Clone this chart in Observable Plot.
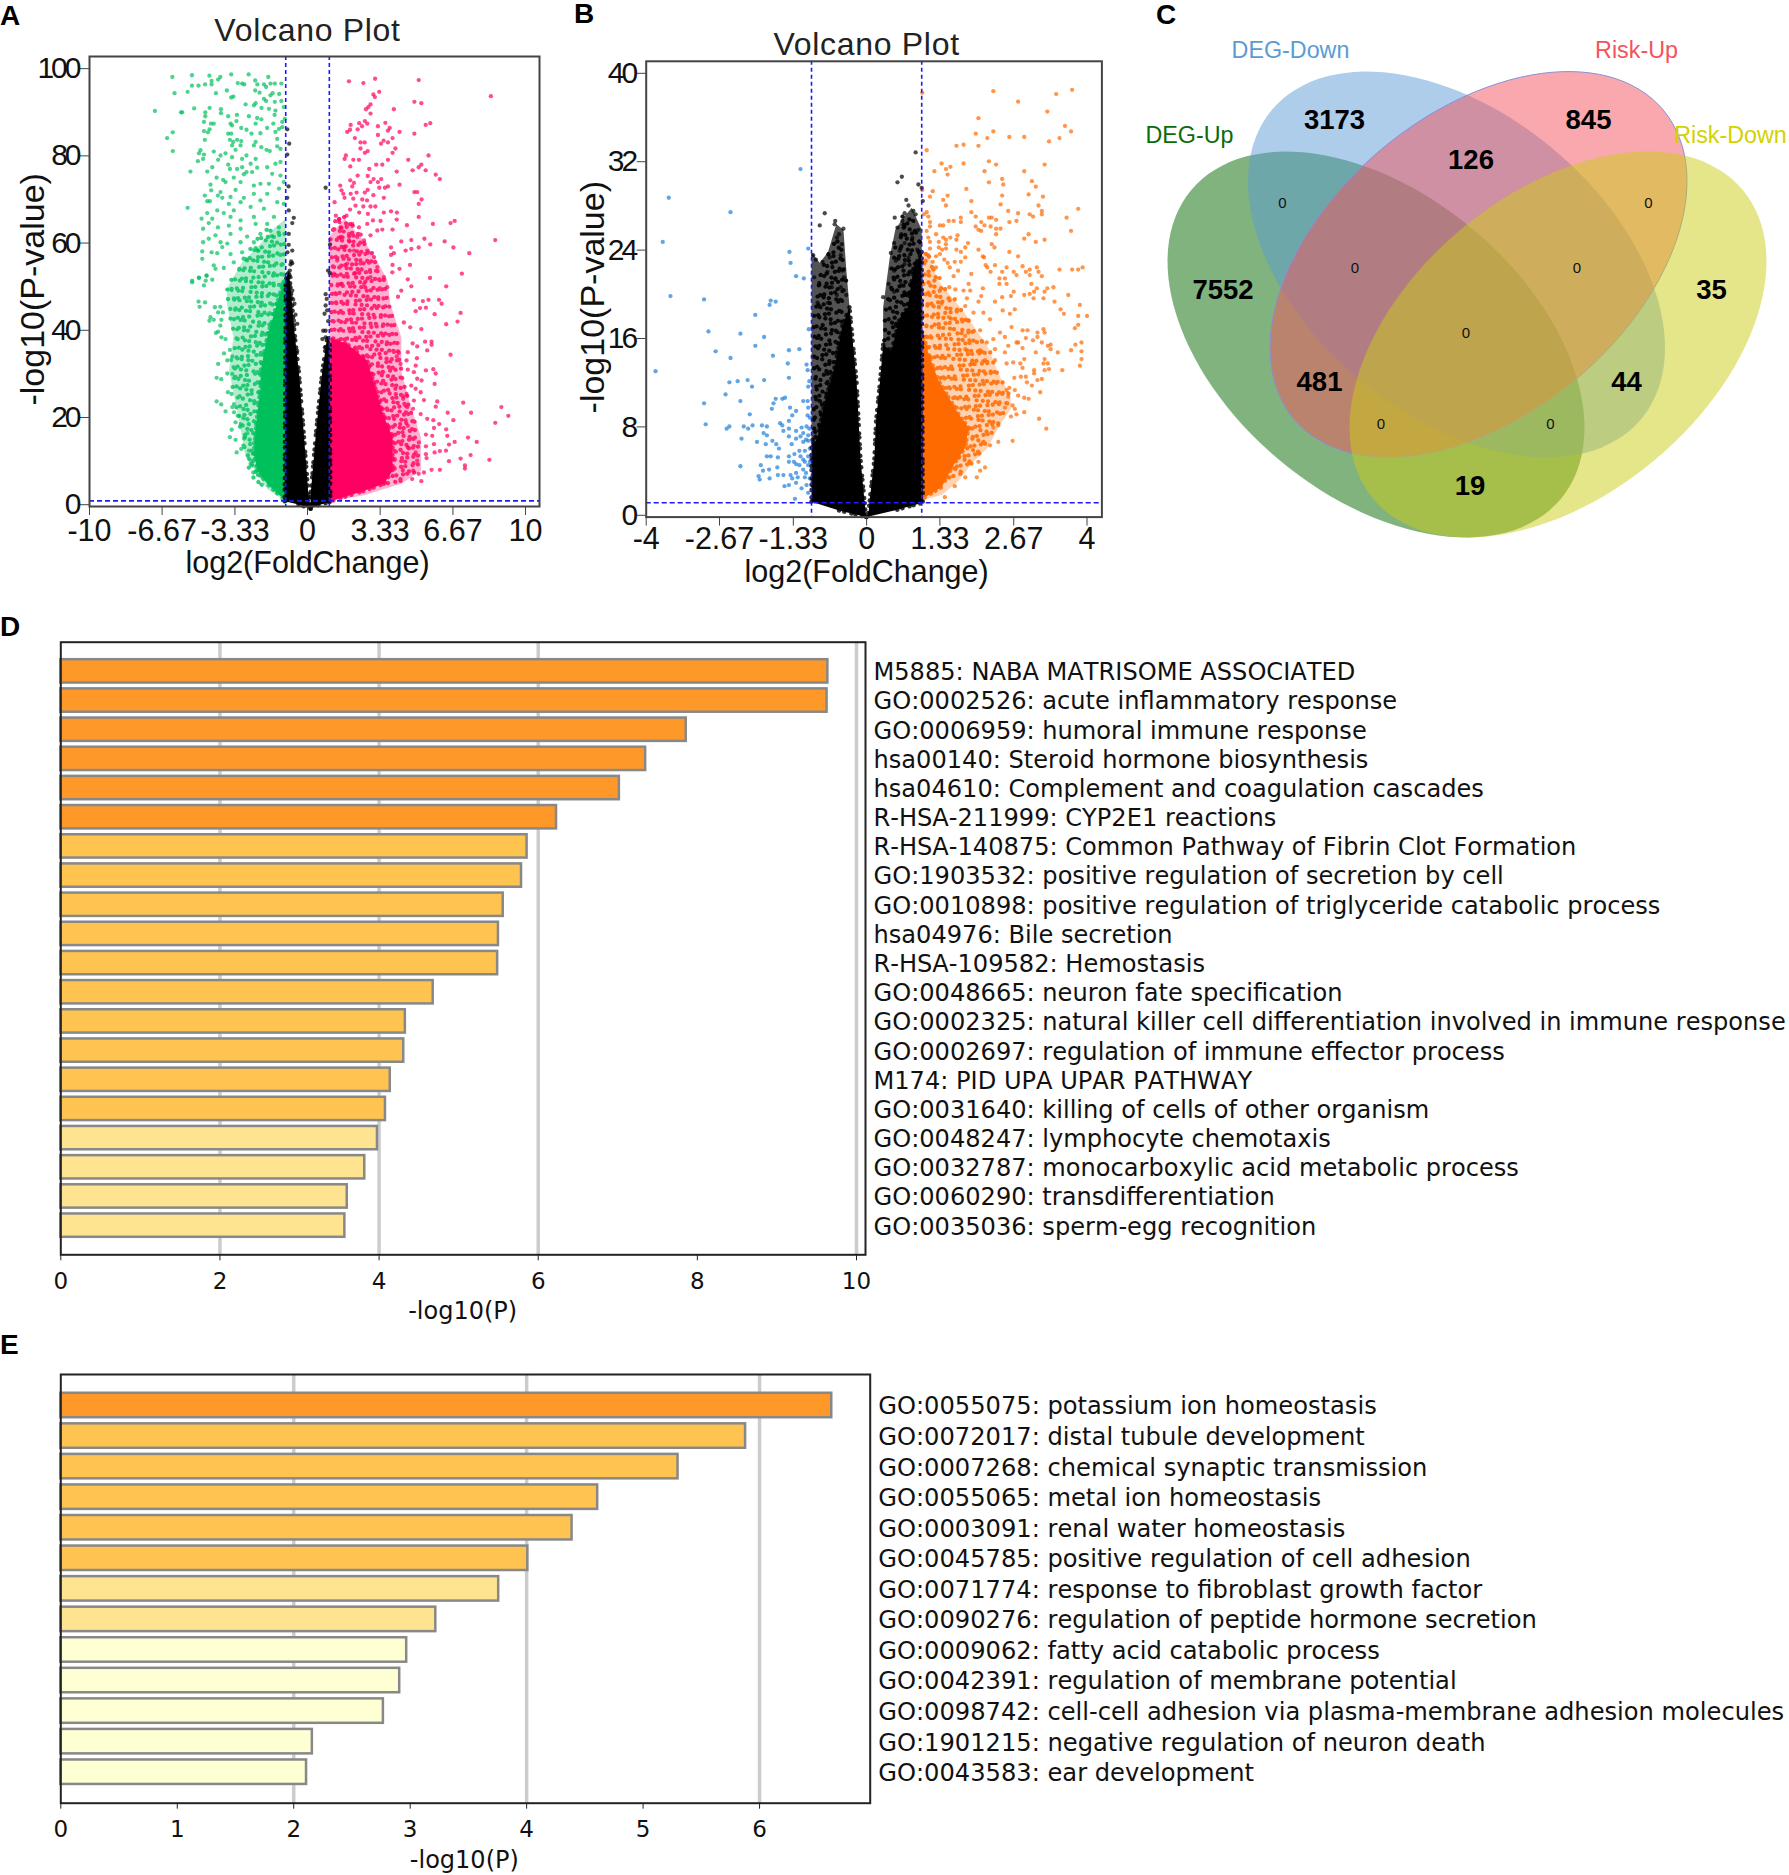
<!DOCTYPE html>
<html><head><meta charset="utf-8">
<script src="https://cdn.jsdelivr.net/npm/d3@7"></script>
<script src="https://cdn.jsdelivr.net/npm/@observablehq/plot@0.6"></script>
<style>
html,body{margin:0;padding:0;background:#fff}
#page{position:relative;width:1789px;height:1875px;overflow:hidden}
#page svg{position:absolute;max-width:none}
.letter{position:absolute;font:bold 28px "Liberation Sans";line-height:28px;color:#000}
.volcano g[aria-label="y-axis tick label"]{letter-spacing:-3px}
.barpanel text{font-kerning:none}
</style></head><body><div id="page"></div>
<script>
// Panel A values (flat x,y lists)
const greenDotsA=[-6.2,98.5,-5.3,98.9,-4.5,98.8,-3.5,99.1,-2.7,99.1,-1.8,98.5,-4,98.5,-4.1,97.9,-4.4,97.6,-5.3,96.5,-5,96.5,-4.7,96.8,-4.4,96.8,-6.1,94.8,-5.5,95.1,-4.2,94.8,-3.7,95.4,-3.2,97.1,-3,97,-2.9,96.8,-2.4,97.7,-2.3,96.8,-2,96.8,-1.9,96.2,-1.7,97,-1.5,97,-1.2,97,-2.4,95.4,-2.2,94.9,-1.7,94.3,-1.6,94.8,-1.3,94.6,-3.4,94,-3.5,93.8,-2,93.5,-1.9,93,-1.5,92.8,-1.2,93,-2.84,92.2,-2.46,92,-2.38,92.5,-2.11,91.4,-1.77,91.2,-1.47,90.8,-1.09,91.6,-4.49,91.4,-3.97,91.1,-3.97,90.2,-4.69,90.4,-4.69,89.5,-3.64,89.5,-3.24,89.8,-2.69,89.5,-2.31,89.1,-2.12,88.8,-1.51,89.8,-1.57,87.8,-1.16,88.2,-1.04,88.9,-4.75,88.2,-4.43,87.8,-4.3,87.8,-3.53,87.8,-3.26,88.4,-3.46,87.4,-2.38,87.8,-1.85,86.8,-1.31,86.6,-1.16,87,-3.04,86.8,-2.8,86.4,-4.75,86.1,-4.49,86.5,-4.57,85.8,-7,90.7,-5.8,90.4,-5.75,90.4,-5.2,91.3,-6.18,85.8,-6.44,84.5,-6.18,81.5,-5.37,76.8,-5.5,68.5,-4.71,84.1,-3.64,85.5,-3.5,85.5,-2.57,85.5,-2.16,85.6,-2.38,83.6,-3.56,84.1,-3.41,83.6,-3.23,84.1,-3.04,83.8,-3.46,82.8,-3.07,82.8,-3.3,81.8,-2.46,82.8,-2.12,82.4,-1.88,81.8,-1.73,81.5,-1.39,82.6,-1.24,82,-1.47,85.9,-1.39,84.3,-4.91,81.7,-4.98,81,-4.75,80.7,-4.3,81.4,-3.76,81,-3.99,80.5,-4.1,79.5,-3.46,80.1,-3,79.7,-2.8,80.5,-2.61,78.6,-2.38,79.7,-5.03,79.2,-4.79,79.7,-3.64,78.4,-3.56,77.4,-4.37,77.8,-4.6,76.8,-3.23,77.4,-3,77.8,-2.8,76.7,-2.31,77.7,-1.85,77.8,-1.24,79,-1.47,78.6,-1.62,76.3,-1.24,75.9,-4.17,75.4,-3.87,74.9,-3.38,75.4,-2.92,76.2,-2.54,76.7,-4.45,73.8,-3.76,74.4,-3.07,74.4,-2.46,73.6,-2.16,74,-1.77,74,-1.09,74.4,-4.42,72.5,-3.99,72.1,-3.3,72.6,-4.71,71.3,-4.11,71.3,-3.91,70.8,-3.53,71,-2.92,70.8,-2.46,71.7,-1.85,71.7,-1.31,72.9,-4.6,70,-4.48,70,-3.61,69.4,-3.07,69.8,-2.16,70.2,-1.39,69.8,-1.09,69.4,-4.14,67.9,-3.84,67.3,-3.38,67.9,-2.61,68.7,-2,68.3,-4.86,66,-4.6,67.3,-4.37,66,-3.53,66.4,-3.07,65.6,-2.46,66.4,-1.54,66.4,-4.53,65,-4.79,63.7,-4.11,64,-3.61,64.4,-3.07,63.7,-2.38,64.8,-1.85,64.8,-1.31,64,-4.22,62.2,-4.53,61.4,-4.79,60.6,-3.99,60.6,-3.53,62.5,-2.77,61.9,-2.16,62.5,-1.54,61.8,-3.68,60.3,-3.07,60.6,-2.46,60.6,-3.91,59.5,-4.4,58.3,-4.83,58.5,-4.83,56.8,-4.14,58.1,-3.53,57.9,-3,58.3,-2.31,58.7,-4.3,55.3,-3.84,54.7,-3.38,56,-2.77,56.4,-4.22,54.5,-4.63,53,-4.98,52.5,-5.29,51.8,-5.29,51.4,-4.98,52.4,-4.63,52.9,-4.37,52,-4.67,51.8,-4.75,50.7,-5,47,-4.7,46.8,-4.95,45.8,-4.25,45.7,-4,45.8,-4.1,44.5,-3.88,44.5,-4.45,43.4,-4.5,42.6,-4.3,42.8,-3.95,42.8,-4,41.5,-4.2,39.8,-4.1,40.1,-3.95,38.8,-3.76,38.4,-3.83,35.1,-3.56,35.9,-3.45,34.4,-3.5,33.6,-3.68,33.5,-4.1,32.7,-3.45,30.4,-3.68,30.5,-4.17,29.5,-3.96,29.2,-3.65,26.2,-3.48,25.8,-4.17,24.1,-3.96,23.4,-3.37,23.5,-3.45,22.8,-3.76,21.8,-3.37,21.6,-3.2,20.8,-3.3,19.3,-3.07,18.9,-3.48,17.6,-3.56,15.9,-3.3,15.3,-2.9,15.6,-2.76,16.8,-3.04,13.2,-3.25,12.4,-2.69,12.8,-2.61,9.8,-2.49,7.8];
const pinkDotsA=[1.9,97.5,2.56,97.1,3.1,98.1,5.1,97.8,8.41,94.1,3.29,95.1,3.02,94.5,3.09,93.9,4.9,92.8,5.22,92.5,2.89,92.2,2.79,91.6,2.68,91.1,3.96,91.1,2.89,90.1,5.63,87.9,5.42,87.5,3.57,88,2.63,88.4,2.74,87.8,2.37,87.9,2.5,87.2,1.98,87.5,3.23,87.2,3.77,86.8,3.69,86.2,2.3,86.5,1.95,86.4,1.82,85.9,4.22,85.9,4.9,85.5,3.23,85.2,2.17,84.5,3.9,84.5,2.43,83.5,2.62,83.5,3.49,83.9,3.37,83.2,3.69,83.5,2.43,82.1,4.03,82.1,2.76,81.5,2.63,81.1,3.9,81.1,5.55,80.5,1.76,80.5,1.7,79.7,2.1,79.5,2.36,79.5,3.69,79.5,4.62,79.5,5.22,78.4,5.1,77.8,3.15,78.4,3.43,78.4,1.96,78,2.83,77.4,4.82,77.1,5.42,77.1,4.09,76.8,5.88,76.1,6.07,75.1,2.3,75.9,2.76,75.8,3.03,75.1,3.38,75.1,1.96,74.8,2.89,74.4,3.23,74.4,2.13,74.2,1.5,73.6,4.22,73.8,3.69,73.4,3.55,73.1,3.29,73.1,2.76,72.6,2.05,73.4,1.56,72.5,1.64,71.7,1.98,71.7,2.25,72,2.63,72,3.02,71.4,4.9,72.1,5.03,72.1,1.7,70.8,2.1,70.6,2.51,70.4,2.73,70.2,3.5,70.8,5.23,70.4,1.24,69.8,2.2,69,5.1,69.4,2.56,68.8,2.89,68.8,3.11,68.8,1.95,68.1,3.83,67.7,3.5,67.4,4.1,67.4,2.37,67.4,1.3,66.7,2.77,67.1,1.79,66.7,5.1,66.4,4.09,65.8,1.44,65.8,6.75,65.5,6.56,65,5.75,64.8,4.56,64.5,3.35,65.5,3,65.6,3.43,63.5,3.9,63.5,8.61,61.1,5.36,61.4,6.29,60.8,5.63,60.1,4.76,61.1,4.3,60.8,6.69,59.4,5.1,59.4,4.76,59.1,4.5,58.7,3.83,59.4,7.42,58.1,3.96,58.1,3.83,57.7,4.7,55.4,3.9,55.4,4.22,54.5,7.08,53.4,4.6,52.1,5.62,52.4,3.89,53.7,6.36,50.5,4.76,50.5,1.52,64,1.9,62.5,2.28,61.8,2.59,61,1.67,59.5,2.13,58.7,2.74,58.7,3.05,57.2,1.36,56.4,1.82,55.7,2.43,55.7,3.2,54.9,1.21,53.4,2.13,53.4,2.89,52.6,3.5,52.6,1.52,51,2.59,51,3.66,50.3,1.9,61,1.52,61.8,2.89,62.2,3.2,63.3,2.36,64,2.74,64.8,2.05,64.8,6.03,47.4,6.15,46.5,5.55,47.4,5.29,47.1,4.88,47.4,4.15,48.1,4.3,49.5,7.02,44.4,6.88,42.4,6.36,41.8,5.83,44.1,5.16,45.5,5.43,45.6,4.96,44.8,5.22,40.7,4.71,41.1,4.42,42.2,5.39,37.8,5.69,37.8,5.69,37.1,5.03,36.7,4.82,37.4,5.49,35.8,6.56,34.8,4.6,35.4,4.19,35.2,5.02,34,4.09,34.4,4.54,33.5,4.27,32.7,5.77,31.5,5.88,30.5,5.43,31.2,4.96,32.3,4.6,31.4,4.88,30.8,5.03,29.3,5.23,28.9,5.83,28.1,4.76,27.7,4.96,27,5.19,26.2,4.54,25.8,4.39,24.7,4.88,24.3,5.34,24.4,5.95,24.1,5.88,22.9,7.14,23.8,8.89,22.8,9.21,20.8,8.61,19.2,7.5,21.5,6.69,19.8,6.43,21.5,5.77,19.8,6.04,18.9,5.8,18,6.36,17.7,6.41,16.2,7.36,15.8,7.76,14.8,6.75,14.8,6.49,14.2,5.43,16.5,5.72,16.2,5.8,14.3,5.43,13.8,5.83,12.4,6.07,12.7,6.35,12.8,7.48,11.8,7.02,11,8.34,10.7,6.49,10.4,7.22,9.4,7.22,8.7,6.07,8.4,5.69,8.4,5.34,7.8,5.1,7.5,5.43,12,5.46,11.1,5.03,10.5,4.85,8.2,5.22,5.8,4.8,6.3,4.96,12.4,4.6,13.6,5.11,14.7,5.19,21.2,4.6,18.5,5.49,20.1,4.58,22.8,4.84,22.4];
const blackDotsA=[-.93,86.5,-.84,83.2,-.93,80.7,-.87,73.4,-.93,70.8,-.86,67.9,-.63,66.2,-.7,65,-.86,62.5,-.86,60,-.7,58.7,-.92,58.3,-.75,56.2,-.81,54.1,-.86,52.6,-.78,55.5,-.7,55.8,-.62,42.6,-.47,41.9,-.62,38.4,-.47,35.7,-.7,49.5,-.6,46.5,-.78,52.6,-.55,44,-.66,47.5,.83,73.1,1.03,60.1,.94,54.1,1.03,53.5,.83,48.7,.88,47.6,.83,46.1,.78,44.2,.72,40.3,.83,40.3,.83,38.8,.68,38.4,.9,45,.95,42.5,.8,36.5];
const greenHaloA=[-1,1.2,-1.85,4,-2.84,11.3,-3.2,21.2,-3.6,31.2,-3.4,38.8,-3.7,46.5,-3.7,50,-3,56,-2.2,60,-1.5,64,-1,66];
const greenCoreA=[-1,1.2,-1.85,5.2,-2.3,8.2,-2.46,12,-2.38,17.4,-2.3,21.2,-2.15,27.3,-2.15,31,-1.85,38.8,-1.4,46.5,-1.08,51.8,-1,52];
const greenScribbleA=[-2.1,5,-2.5,6.6,-2.2,7.4,-2.7,8.9,-2.4,10,-2.85,11.5,-2.4,12.4,-3,13.9,-2.4,14.6,-3,16.3,-2.3,17.1,-3.15,18.4,-2.3,19.3,-3.2,20.7,-2.25,21.6,-3.3,22.8,-2.2,23.9,-3.3,25.1,-2.15,26.3,-3.45,27.4,-2.1,28.3,-3.5,29.6,-2.1,30.7,-3.55,31.8,-2,33,-3.4,34.1,-1.9,35,-3.35,36.3,-1.8,37.2,-3.35,38.5,-1.7,39.6,-3.45,40.8,-1.6,41.8,-3.55,43.1,-1.5,44.2,-3.6,45.3,-1.4,46.4,-3.7,47.6,-1.25,48.5,-3.75,49.8,-1.1,50.9,-3.5,52,-1.05,53.2,-3.3,54.4,-1.05,55.5,-3,56.8,-1.05,57.8,-2.7,59,-1.05,60.2,-2.3,61.4,-1.05,62.5,-2,63.6];
const pinkHaloA=[1,1.2,2.6,2.6,4.3,5.2,5.2,8.2,5.2,15.9,4.7,23.5,4.3,31,4.3,38.8,3.8,46.5,3.66,52,3,58,2.4,62,1.7,66,1,62];
const pinkCoreA=[1,1.1,1.13,1.3,2.6,3.6,3.5,5.2,3.9,8.2,3.9,15.9,3.5,20.5,3.1,27.3,2.74,33.5,1.8,37.3,1.05,38.8];
const pinkScribbleA=[3.5,5.2,4.4,6,3.9,7,4.9,7.8,3.9,8.8,5.1,9.7,3.9,10.8,5.15,11.6,3.9,12.7,5.1,13.7,3.9,14.6,5.05,15.7,3.85,16.6,5,17.6,3.7,18.4,4.95,19.5,3.5,20.4,4.85,21.4,3.4,22.3,4.75,23.3,3.3,24.4,4.6,25.4,3.2,26.3,4.5,27.4,3,28.5,4.4,29.5,2.9,30.4,4.3,31.6,2.8,32.5,4.25,33.6,2.5,34.5,4.2,35.6,2.1,36.4,4.15,37.5,1.5,38.4,4.1,39.5,1.05,40.5,4,41.6,1.05,42.5,3.9,43.7,1.05,44.6,3.8,45.8,1.05,46.7,3.7,47.8,1.05,48.8,3.65,49.9,1.05,50.8,3.55,52,1.05,53,3.3,54,1.05,55,3.2,56.1,1.05,57.1,3,58.1,1.05,59.2,2.8,60.3,1.05,61.3,2.5,62.4,1.1,63.5,2.2,64.5,1.2,65.5,1.8,66.6];
const blackLeftA=[-1.05,1.2,-1,52,-.85,54,-.72,47,-.6,40,-.4,31,-.16,16,.05,2,.14,-.5,-.5,.6];
const blackRightA=[.14,-.5,.14,2.5,.37,15.9,.52,23.5,.68,31,.9,38.8,1.02,38,1.05,1.1,.5,.3];
const xTicksA=[-10,-6.67,-3.33,0,3.33,6.67,10];
const yTicksA=[0,20,40,60,80,100];
// Panel B values
const blueDotsB=[-3.59,28.9,-2.47,27.6,-3.7,24.9,-1.2,31.5,-1.4,24,-1.38,23,-1.06,24.3,-1.28,21.8,-1.14,21.6,-3.56,20,-2.95,19.7,-1.74,19.6,-1.76,19.2,-1.65,19.5,-2.02,18.3,-1.05,17,-2.87,16.8,-2.29,16.6,-1.86,16.3,-2.02,15.5,-1.41,15.1,-1.22,15.2,-2.74,15,-1.7,14.6,-2.47,14.4,-1.43,13.9,-1.09,13.8,-1.07,13.3,-3.83,13.2,-1.41,12.6,-1.86,12.4,-2.16,12.4,-2.34,12.3,-2.49,12.2,-1.04,12.3,-1.06,11.8,-2.08,11.8,-2.56,11.1,-1.48,10.8,-1.53,10.7,-1.65,10.7,-1.69,10.3,-2.29,10.5,-2.95,10.3,-1.07,10.5,-1.15,10.5,-1.72,9.8,-1.39,9.9,-1.28,9.6,-1.06,9.9,-2.12,9.3,-1.07,9.2,-1.35,9.2,-2.92,8.4,-1.57,8.5,-1.53,8.3,-1.41,8.7,-2.49,8.2,-2.54,8,-2.23,8.2,-2.15,8,-2.07,8.3,-1.9,8.3,-1.81,8.2,-1.41,8,-1.18,8.1,-1.09,8.2,-1.04,8,-1.28,7.8,-1.51,7.8,-1.87,7.6,-1.81,7.4,-2.27,7.1,-1.99,6.8,-1.71,6.9,-1.64,6.6,-1.59,6.2,-1.83,6.6,-1.41,7.3,-1.28,7.1,-1.15,7.6,-1.06,7.4,-1.36,6.6,-1.15,6.8,-1.06,6.9,-1.22,6,-1.41,5.5,-1.31,5.7,-1.12,6,-1.81,5.5,-1.74,5.5,-1.61,5.4,-2.29,4.6,-1.92,4.7,-1.62,4.5,-1.77,4.3,-1.88,4.2,-1.96,3.7,-1.94,3.4,-1.76,3.5,-1.61,3.8,-1.51,3.8,-1.41,5,-1.28,4.8,-1.15,5.2,-1.06,5.5,-1.38,3.8,-1.28,4,-1.15,4.3,-1.06,4.7,-1.49,2.8,-1.41,2.9,-1.28,3.1,-1.18,2.6,-1.09,2.9,-1.3,1.65,-1.06,2.2,-1.25,3.6,-1.12,3.6,-1.35,3.5,-1.22,4.7,-1.1,7,-1.2,7.3,-1.12,5,-1.03,6.2,-1.03,3.5,-1.03,5,-1.1,4,-1.2,5.5,-1.32,5,-1.03,9];
const orangeDotsB=[1.01,38.4,2.3,38.55,3.73,38.67,3.44,38.28,2.75,37.6,3.28,36.7,2.03,36.1,3.6,35.4,3.71,34.9,2.3,34.9,1.98,34.7,2.59,34.4,2.86,34.4,2.19,34.3,3.5,34.3,3.31,34,1.76,33.7,1.63,33.6,2.03,33.6,1.09,33.2,2.22,32.2,1.36,32,1.76,32,2.35,31.9,3.23,31.9,1.52,31.7,1.44,31.5,1.23,31.3,2.14,31.3,2.86,31.3,1.47,31,2.46,30.6,3,30.4,2.22,30.3,2.48,30.1,3.07,29.9,1.81,29.7,1.01,29.6,1.2,29.5,2.94,29.2,2.46,29.1,3.2,29,1.47,29.1,1.15,29,1.39,28.7,1.9,28.6,2.43,28.3,1.44,28.2,3.12,28.2,3.84,27.9,3.18,27.7,2.57,27.7,1.9,27.6,3.18,27.4,2.75,27.5,2.96,27.4,3.02,27.2,3.63,27.1,1.09,27.6,1.04,27.4,1.12,27.2,1.71,27.1,1.98,27.2,2.22,27.1,2.27,27.1,2.35,26.9,1.58,26.8,1.49,26.8,1.71,26.7,2.72,26.8,2.59,26.7,2.08,26.7,1.15,26.7,2.14,26.4,1.33,26.4,1.39,26.4,1.15,26.3,1.98,26.3,2.25,26.3,2.35,26.1,2.43,26.1,2.03,26,2.08,25.9,1.09,25.9,3.71,25.9,1.26,25.6,2.35,25.6,2.94,25.6,1.65,25.5,1.39,25.3,1.12,25.3,1.52,25.3,2.86,25.2,1.63,25.1,3.23,25.1,3.07,24.9,1.15,24.9,1.31,24.9,1.44,25.1,1.84,24.8,2.27,24.7,2.32,24.4,1.44,24.7,1.79,24.4,1.31,24.4,1.15,24.3,1.63,24.2,1.44,24.3,2.03,24.2,1.71,24,2.59,24,1.37,24.2,1.26,23.6,1.12,23.7,2.11,23.6,2.75,23.6,2.13,23.5,1.79,23.5,1.33,23.8,1.41,23.3,1.2,23.1,1.6,23.1,1.71,23.1,1.47,23,2.16,22.8,2.33,22.8,2.83,22.7,3.09,22.6,3.5,22.4,3.73,22.4,3.84,22.4,3.92,22.6,2.19,22.6,2.96,22.4,2.54,22.6,1.26,22.6,1.51,22.6,1.66,22.3,2.67,22.2,2.46,22.2,3.12,22.2,2.89,22.2,2.96,21.9,2.72,21.9,1.9,22,2.25,22.2,2.41,21.6,2.51,21.6,1.58,21.8,3.18,21.8,2.41,21.1,2.54,21.1,2.99,21.1,1.85,21.1,1.5,20.8,3.39,20.8,3.28,20.7,2.11,20.7,1.61,20.6,1.76,20.5,1.88,20.5,2.67,20.4,3.09,20.7,3.04,20.4,2.96,20.2,3.23,20.4,3.66,20.1,2.86,20.1,2.62,20,2.08,20,2.46,19.9,1.82,19.8,3.21,19.8,3.03,19.8,3.87,19.2,4,18.2,3.84,18.2,3.52,18.8,3.58,18.4,3.41,19.5,3.84,17.4,3.78,17.1,3.21,17,3.23,16.7,3.1,16.7,3.02,16,3.1,16.3,3.18,15.8,2.83,16.9,2.92,16.9,2.89,16.2,3.9,15.8,3.79,15.6,3.34,15.6,3.29,15.5,3.71,15.1,3.9,15,3.47,14.9,3.07,14.9,3.34,15.2,2.83,15.3,2.75,15.8,3.9,14.3,3.23,14.3,3.87,13.7,3.29,13.9,3.21,13.9,2.86,14.3,2.79,13.9,2.83,13.5,3.55,13.3,3.31,13.4,3.23,13.3,3.04,13.3,3.04,13,2.89,12.7,2.8,12.7,3.18,12.5,3.1,12.4,3,11.9,2.91,12.2,2.68,12.6,3.15,11.3,2.59,11.7,2.54,11.5,2.69,11.5,2.75,11,2.86,10.8,2.94,10.7,2.57,10.9,2.65,10.1,2.51,9.9,2.69,9.8,2.86,9.5,2.62,9.1,2.72,9.3,3.13,8.9,3.26,8,2.39,8.3,2.3,8.1,2.65,6.9,2.39,6.8,2.24,6.5,2.15,4.5,2.03,5,2.06,4.2,2,3.6,1.79,3.6,1.6,2.8,1.42,1.8,1.36,19.3,1.79,19.1,2.03,19.5,2.33,19.5,2.47,18.7,2.12,18.5,1.94,18.5,1.49,18.1,1.85,17.8,2.24,17.9,2.6,18.4,2.69,18.8,2.06,16.9,2.42,16.7,2.63,17.2,2.51,16.3,2.3,16.1,1.79,16.4,2.18,15.8,2.72,15.8,2.57,15.5,2.33,15.2,2.06,15.1,1.79,15.2,2.51,14.9,2.15,14.2,2.33,14.2,2.54,13.9,2.66,14,1.91,13.9];
const blackDotsB=[-.76,27.5,-.85,26.4,-.57,26.8,-.58,26.5,-.42,26.1,-.5,25.6,-.54,25.3,-.45,24.7,-.97,23.7,-.92,23.3,-.8,23.1,-.67,23.5,-.47,23.7,-.71,22.2,-.44,22.3,-.95,21.7,-.86,21.2,-.57,21.5,-.41,21.7,-.63,20.8,-.47,20.8,-.89,19.4,-.7,19.4,-.54,20.1,-.37,20.1,.89,33,.64,30.8,.56,30.3,.94,30.1,1,29.8,1.02,28.6,.72,28.7,.76,28.2,.85,27.7,.69,27.5,.89,27.4,.51,27.1,.65,26.8,.69,26.3,.56,26.2,.94,26,.63,25.6,.83,25.3,.5,24.8,.69,24.8,.92,24.2,.44,23.9,.6,24.1,.76,23.5,.53,23.2,.92,23.2,.69,22.9,.5,22.3,.83,22.3,.4,21.1,.63,21,.85,21.1,.5,20.4,.3,19.9,.69,20.1];
const orangeHaloB=[1,1.5,1.36,2,1.67,3.3,1.9,4.8,2.2,6.3,2.39,8.1,2.63,9.9,2.6,11.1,2.39,13,2.2,15.4,1.79,18.4,1.3,21.4,1.1,24,1,24];
const orangeCoreB=[1,1.5,1.06,1.8,1.36,2.7,1.55,4.5,1.79,6.3,1.85,8.1,1.67,9.3,1.3,12.4,1.12,14.8,1.01,16.9];
const orangeScribbleB=[1.5,3.6,1.75,4,1.55,4.5,1.95,4.9,1.65,5.4,2.1,5.8,1.78,6.3,2.2,6.7,1.85,7.2,2.3,7.6,1.85,8.1,2.42,8.5,1.78,9,2.5,9.4,1.62,9.9,2.58,10.3,1.52,10.8,2.6,11.2,1.4,11.7,2.5,12.2,1.3,12.6,2.42,13.1,1.24,13.5,2.32,14,1.15,14.5,2.25,14.9,1.08,15.4,2.15,15.9,1.03,16.3,2,16.8,1.03,17.3,1.9,17.8,1.03,18.2,1.75,18.7,1.03,19.2,1.6,19.7,1.03,20.2,1.45,20.6,1.03,21.1,1.35,21.6,1.03,22,1.25,22.5,1.03,23,1.15,23.5,1.03,24];
const blackHaloLeftB=[-1,6,-1,24,-.85,23,-.7,24,-.55,26.5,-.42,26,-.37,22.5,-.31,19,-.44,15,-.57,12,-.76,9,-.9,6];
const blackCoreLeftB=[-1,1.4,-1,6.5,-.9,7,-.76,10.4,-.57,13.8,-.44,17.3,-.31,19,-.18,12.1,-.11,5.2,-.02,.5,0,0,-.5,.6];
const blackScribbleLeftB=[-.98,7,-.88,7.5,-.98,7.9,-.85,8.4,-.98,8.9,-.8,9.4,-.98,9.8,-.76,10.3,-.98,10.8,-.72,11.2,-.98,11.7,-.68,12.2,-.98,12.6,-.62,13.1,-.98,13.5,-.58,14,-.98,14.5,-.54,14.9,-.98,15.4,-.5,15.8,-.98,16.3,-.47,16.8,-.98,17.2,-.45,17.7,-.98,18.2,-.42,18.6,-.96,19.1,-.4,19.6,-.94,20,-.38,20.5,-.9,21,-.37,21.4,-.85,21.9,-.4,22.4,-.8,22.8,-.42,23.3,-.7,23.8,-.45,24.2,-.6,24.7,-.45,25.2];
const blackHaloRightB=[.3,15,.3,19,.42,23.5,.52,26,.65,27,.82,28,1,26,1,20,.75,17,.5,13];
const blackCoreRightB=[0,0,.04,.6,.06,1.7,.14,5.2,.17,8.6,.24,12.1,.3,15.6,.45,15,.6,18,.75,19,.85,22.5,1,24,1.02,1.3,.5,.6];
const blackScribbleRightB=[.32,16,.5,16.4,.32,16.9,.6,17.4,.32,17.8,.7,18.3,.34,18.8,.75,19.3,.36,19.7,.8,20.2,.4,20.7,.85,21.1,.42,21.6,.88,22.1,.45,22.5,.95,23,.48,23.5,.98,24,.52,24.4,1,24.9,.55,25.4,.95,25.8,.6,26.3,.85,26.8,.65,27.2];
const xTicksB=[-4,-2.67,-1.33,0,1.33,2.67,4];
const yTicksB=[0,8,16,24,32,40];
// Panel C values
const vennNames=["DEG-Up","DEG-Down","Risk-Up","Risk-Down"];
const vennNameColors=["#0b6b0b","#5b9bd5","#f4535c","#d2d200"];
const vennFills=["#036700","#5b9bd5","#f4535c","#cccc16"];
const vennBold=["3173","845","126","7552","35","481","44","19"];
const vennZero=["0","0","0","0","0","0","0"];
// Panel D values
const termsD=["M5885: NABA MATRISOME ASSOCIATED","GO:0002526: acute inflammatory response","GO:0006959: humoral immune response","hsa00140: Steroid hormone biosynthesis","hsa04610: Complement and coagulation cascades","R-HSA-211999: CYP2E1 reactions","R-HSA-140875: Common Pathway of Fibrin Clot Formation","GO:1903532: positive regulation of secretion by cell","GO:0010898: positive regulation of triglyceride catabolic process","hsa04976: Bile secretion","R-HSA-109582: Hemostasis","GO:0048665: neuron fate specification","GO:0002325: natural killer cell differentiation involved in immune response","GO:0002697: regulation of immune effector process","M174: PID UPA UPAR PATHWAY","GO:0031640: killing of cells of other organism","GO:0048247: lymphocyte chemotaxis","GO:0032787: monocarboxylic acid metabolic process","GO:0060290: transdifferentiation","GO:0035036: sperm-egg recognition"];
const valuesD=[9.64,9.63,7.86,7.35,7.02,6.23,5.86,5.79,5.56,5.5,5.49,4.68,4.33,4.31,4.14,4.08,3.98,3.82,3.6,3.57];
const tiersD=[3,3,3,3,3,3,2,2,2,2,2,2,2,2,2,2,1,1,1,1];
// Panel E values
const termsE=["GO:0055075: potassium ion homeostasis","GO:0072017: distal tubule development","GO:0007268: chemical synaptic transmission","GO:0055065: metal ion homeostasis","GO:0003091: renal water homeostasis","GO:0045785: positive regulation of cell adhesion","GO:0071774: response to fibroblast growth factor","GO:0090276: regulation of peptide hormone secretion","GO:0009062: fatty acid catabolic process","GO:0042391: regulation of membrane potential","GO:0098742: cell-cell adhesion via plasma-membrane adhesion molecules","GO:1901215: negative regulation of neuron death","GO:0043583: ear development"];
const valuesE=[6.62,5.88,5.3,4.61,4.39,4.01,3.76,3.22,2.97,2.91,2.77,2.16,2.11];
const tiersE=[3,2,2,2,2,2,1,1,0,0,0,0,0];
const tierColors=["#ffffd4","#fee391","#fec44f","#fe9929"];

const page=document.getElementById("page");
const pairs=a=>d3.range(0,a.length,2).map(i=>[a[i],a[i+1]]);
const XY={x:d=>d[0],y:d=>d[1]};
const speckle="0.1,4.1,0.1,7.3,0.1,5.2,0.1,6.1,0.1,8.3,0.1,3.9,0.1,6.7";
const tint=(a,fill,op)=>Plot.line(pairs(a),{...XY,fill,fillOpacity:op,stroke:"none"});
const solid=(a,fill)=>Plot.line(pairs(a),{...XY,fill,stroke:fill,strokeWidth:4.4,strokeLinecap:"round",strokeDasharray:speckle,strokeOpacity:.8});
const scribble=(a,stroke,op)=>Plot.line(pairs(a),{...XY,stroke,strokeWidth:4.2,strokeLinecap:"round",strokeLinejoin:"round",strokeDasharray:speckle,strokeOpacity:op});
const dots=(a,fill)=>Plot.dot(pairs(a),{...XY,r:2.15,fill,fillOpacity:.7,stroke:"none"});
const ARIAL="Liberation Sans", DEJAVU="DejaVu Sans";

function volcano(o){
  const svg=Plot.plot({
    className:"volcano",
    width:o.width,height:o.height,marginLeft:o.ml,marginRight:o.mr,marginTop:o.mt,marginBottom:o.mb,
    style:{fontFamily:ARIAL,background:"transparent",color:"#111"},
    x:{domain:o.xd,nice:false},y:{domain:o.yd,nice:false},
    marks:[
      ...o.back,
      Plot.ruleX([-1,1],{stroke:"#1a1aff",strokeWidth:1.6,strokeDasharray:"4,3"}),
      Plot.ruleY([o.cut],{stroke:"#1a1aff",strokeWidth:1.6,strokeDasharray:"5,3"}),
      Plot.frame({stroke:"#444",strokeWidth:2}),
      Plot.axisX({ticks:o.xt,tickFormat:d=>String(d),tickSize:9,tickPadding:o.xtp,fontSize:30.5,stroke:"#444",label:null}),
      Plot.axisY({ticks:o.yt,tickFormat:d=>String(d),tickSize:9,tickPadding:2,fontSize:30,stroke:"#444",label:null,dy:-1.8}),
      Plot.text(["Volcano Plot"],{x:()=>0,y:()=>o.ty,fontSize:32,fill:"#222"}),
      Plot.text(["log2(FoldChange)"],{x:()=>0,y:()=>o.xly,fontSize:30.5,fill:"#111"}),
      Plot.text(["-log10(P-value)"],{x:()=>o.ylx,y:()=>o.yly,rotate:-90,fontSize:34,fill:"#111"})
    ]});
  svg.style.left=o.left+"px";svg.style.top="0px";page.append(svg);
  d3.select(svg).selectAll("text").filter(function(){return this.textContent==="Volcano Plot";}).style("letter-spacing","0.7px");
}
volcano({left:0,width:560,height:590,ml:89,mr:21,mt:56,mb:84,xd:[-10,10.64],yd:[0,103.2],xt:xTicksA,yt:yTicksA,cut:1.3,ty:109,xly:-12.96,ylx:-12.6,yly:49.8,xtp:4,
  back:[tint(greenHaloA,"#00c05c",.3),scribble(greenScribbleA,"#00c05c",.8),solid(greenCoreA,"#00c05c"),dots(greenDotsA,"#00c05c"),
        tint(pinkHaloA,"#ff0062",.3),scribble(pinkScribbleA,"#ff0062",.8),solid(pinkCoreA,"#ff0062"),dots(pinkDotsA,"#ff0062"),
        solid(blackLeftA,"#000"),solid(blackRightA,"#000"),dots(blackDotsA,"#000")]});
volcano({left:560,width:560,height:600,ml:85.7,mr:18.6,mt:60.8,mb:83.4,xd:[-4,4.27],yd:[0,41.25],xt:xTicksB,yt:yTicksB,cut:1.3,ty:42.77,xly:-5.0,ylx:-4.96,yly:19.9,xtp:1,
  back:[dots(blueDotsB,"#1f7fd8"),
        tint(orangeHaloB,"#ff6a00",.3),scribble(orangeScribbleB,"#ff6a00",.85),solid(orangeCoreB,"#ff6a00"),dots(orangeDotsB,"#ff6a00"),
        tint(blackHaloLeftB,"#000",.68),tint(blackHaloRightB,"#000",.68),scribble(blackScribbleLeftB,"#000",.9),scribble(blackScribbleRightB,"#000",.9),solid(blackCoreLeftB,"#000"),solid(blackCoreRightB,"#000"),dots(blackDotsB,"#000")]});

// Venn: four rotated ellipses (centre x, centre y, tilt) in the panel's own units
const vennEllipses=[[245.5,344,39.9],[326,264,39.9],[348,264,-39.9],[427.5,344,-39.9]];
const vennA=240.8,vennB=150.7;
const outline=([cx,cy,deg])=>{const t=deg*Math.PI/180;return d3.range(0,361,3).map(v=>{const u=v*Math.PI/180,p=vennA*Math.cos(u),q=vennB*Math.sin(u);return [cx+p*Math.cos(t)-q*Math.sin(t),cy+p*Math.sin(t)+q*Math.cos(t)];});};
const vennNamePos=[[59,135],[160,50],[506,50],[600,135]];
const vennBoldPos=[[204,120],[458,120],[340.5,160],[92.5,290],[581,290],[189,382],[496,382],[339.6,486]];
const vennZeroPos=[[152,203],[518,203],[224.5,268],[446.4,268],[335.4,333],[250.5,424],[420,424]];
const venn=Plot.plot({width:659,height:560,margin:0,style:{fontFamily:ARIAL,background:"transparent"},
  x:{domain:[0,659],range:[0,659],axis:null},y:{domain:[0,560],range:[0,560],axis:null},
  marks:[
    ...vennEllipses.map((e,i)=>Plot.line(outline(e),{...XY,fill:vennFills[i],fillOpacity:.5,stroke:i===2?"#8a8fd8":"none",strokeWidth:1})),
    Plot.text(vennNames,{x:(d,i)=>vennNamePos[i][0],y:(d,i)=>vennNamePos[i][1],fill:(d,i)=>vennNameColors[i],fontSize:23.3,textAnchor:"middle"}),
    Plot.text(vennBold,{x:(d,i)=>vennBoldPos[i][0],y:(d,i)=>vennBoldPos[i][1],fontSize:27.5,fontWeight:"bold",fill:"#000"}),
    Plot.text(vennZero,{x:(d,i)=>vennZeroPos[i][0],y:(d,i)=>vennZeroPos[i][1],fontSize:15,fill:"#111"})
  ]});
venn.style.left="1130px";venn.style.top="0px";page.append(venn);

function bars(o){
  const rows=o.terms.map((t,i)=>({t,v:o.values[i],c:o.tiers[i]}));
  const svg=Plot.plot({className:"barpanel",width:1789,height:o.height,marginLeft:60.3,marginRight:o.mr,marginTop:o.mt,marginBottom:o.mb,
    style:{fontFamily:DEJAVU,background:"transparent",color:"#111"},
    x:{domain:o.xd,nice:false},
    y:{type:"band",domain:o.terms,paddingInner:.2,paddingOuter:o.po,round:false},
    color:{type:"ordinal",domain:[0,1,2,3],range:tierColors},
    marks:[
      Plot.ruleX(o.grid,{stroke:"#cccccc",strokeWidth:3.5}),
      Plot.barX(rows,{x:"v",y:"t",fill:"c",stroke:"#888",strokeWidth:2.5}),
      Plot.frame({stroke:"#222",strokeWidth:2}),
      Plot.axisX({ticks:o.xt,tickFormat:d=>String(d),tickSize:6,tickPadding:11.5,fontSize:23,stroke:"#222",label:null}),
      Plot.axisY({anchor:"right",tickSize:0,tickPadding:o.tp,fontSize:o.fs,label:null,dy:1.2}),
      Plot.text(["-log10(P)"],{x:()=>o.lx,frameAnchor:"bottom",lineAnchor:"middle",dy:o.ldy,fontSize:24,fill:"#111"})
    ]});
  svg.style.left="0px";svg.style.top=o.top+"px";page.append(svg);
}
bars({terms:termsD,values:valuesD,tiers:tiersD,top:612,height:720,mt:29.7,mb:77.7,mr:924,xd:[0,10.113],xt:[0,2,4,6,8,10],grid:[2,4,6,10],po:.6,tp:8,fs:24.1,lx:5.05,ldy:57});
bars({terms:termsE,values:valuesE,tiers:tiersE,top:1340,height:535,mt:34,mb:72.3,mr:919.3,xd:[0,6.95],xt:[0,1,2,3,4,5,6],grid:[2,4,6],po:.614,tp:8,fs:24.16,lx:3.465,ldy:57.3});

[["A",0,1.5],["B",574,0],["C",1156,.5],["D",0,612.5],["E",0,1330.5]].forEach(([t,x,y])=>{
  const d=document.createElement("div");d.className="letter";d.textContent=t;d.style.left=x+"px";d.style.top=y+"px";page.append(d);
});
</script></body></html>
